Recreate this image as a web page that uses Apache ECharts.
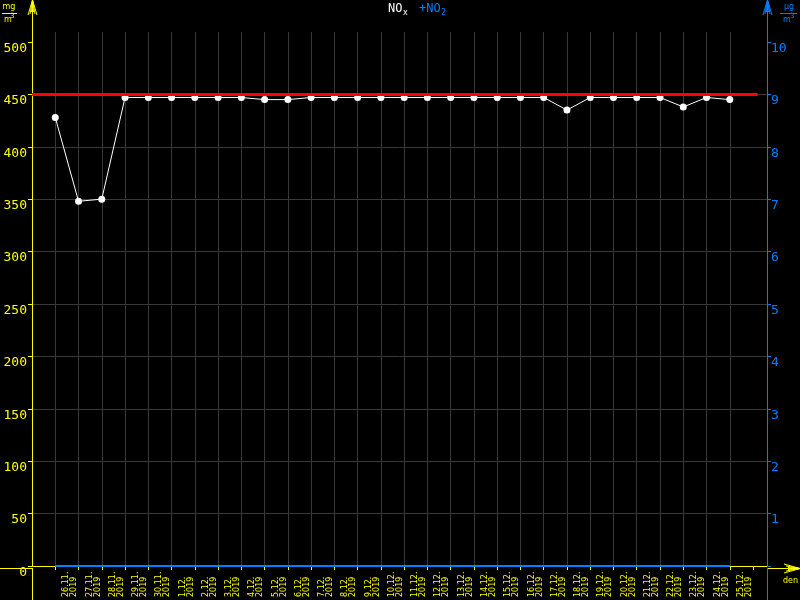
<!DOCTYPE html>
<html>
<head>
<meta charset="utf-8">
<script src="https://cdn.jsdelivr.net/npm/echarts@6/dist/echarts.min.js"></script>
<style>
  html, body { margin: 0; padding: 0; background: #000; }
  #main { width: 800px; height: 600px; }
</style>
</head>
<body>
<div id="main"></div>
<script>
// daily values, 26.11.2019 - 25.12.2019
var days = ['26.11.', '27.11.', '28.11.', '29.11.', '30.11.', '1.12.', '2.12.', '3.12.', '4.12.', '5.12.',
  '6.12.', '7.12.', '8.12.', '9.12.', '10.12.', '11.12.', '12.12.', '13.12.', '14.12.', '15.12.',
  '16.12.', '17.12.', '18.12.', '19.12.', '20.12.', '21.12.', '22.12.', '23.12.', '24.12.', '25.12.'];
var year = '2019';
var noxValues = [428, 348, 350, 447, 447, 447, 447, 447, 447, 445,
  445, 447, 447, 447, 447, 447, 447, 447, 447, 447,
  447, 447, 435, 447, 447, 447, 447, 438, 447, 445];
var no2Values = [0, 0, 0, 0, 0, 0, 0, 0, 0, 0,
  0, 0, 0, 0, 0, 0, 0, 0, 0, 0,
  0, 0, 0, 0, 0, 0, 0, 0, 0, 0];
var noxLimit = 450;
var leftTicks = [0, 50, 100, 150, 200, 250, 300, 350, 400, 450, 500];
var rightTicks = [0, 1, 2, 3, 4, 5, 6, 7, 8, 9, 10];

var YELLOW = '#ffff00';
var BLUE = '#0080ff';
var GRIDC = '#383838';
var labelShift = 0.645;

var gridDays = [];
for (var d = 0; d <= days.length; d++) gridDays.push(d);
var labelPos = days.map(function (x, i) { return i + labelShift; });

function fan(tip, ends, color) {
  return ends.map(function (e) {
    return { type: 'line', silent: true, shape: { x1: tip[0], y1: tip[1], x2: e[0], y2: e[1] },
      style: { stroke: color, lineWidth: 1 } };
  });
}
function seg(x1, y1, x2, y2, color) {
  return { type: 'line', silent: true, shape: { x1: x1, y1: y1, x2: x2, y2: y2 },
    style: { stroke: color, lineWidth: 1 } };
}
function txt(x, y, s, size, color, align, fam) {
  return { type: 'text', silent: true, x: x, y: y,
    style: { text: s, fill: color, font: size + 'px ' + (fam || '"DejaVu Sans"'), align: align || 'left', verticalAlign: 'top' } };
}

var graphics = [
  seg(0, 568.5, 32, 568.5, YELLOW),
  seg(767, 568.5, 800, 568.5, YELLOW),
  seg(32.5, 0, 32.5, 32, YELLOW),
  seg(32.5, 568, 32.5, 600, YELLOW),
  seg(767.5, 0, 767.5, 32, BLUE),
  seg(767.5, 568, 767.5, 600, BLUE),
  // mg/m3
  txt(9, 3, 'mg', 8, YELLOW, 'center'),
  seg(2, 13.5, 17, 13.5, YELLOW),
  txt(4, 16, 'm', 8, YELLOW),
  txt(10, 13, '3', 7, YELLOW),
  // ug/m3
  txt(789, 3, 'μg', 8, BLUE, 'center'),
  seg(780, 13.5, 797, 13.5, BLUE),
  txt(783, 16, 'm', 8, BLUE),
  txt(790, 13, '3', 7, BLUE),
  // title
  txt(388, 3, 'NO', 12, '#ffffff', 'left', '"DejaVu Sans Mono"'),
  txt(403, 9, 'x', 8, '#ffffff'),
  txt(419, 3, '+NO', 12, BLUE, 'left', '"DejaVu Sans Mono"'),
  txt(441, 9, '2', 8, BLUE),
  txt(783, 577, 'den', 8, YELLOW)
];
graphics = graphics
  .concat(fan([32.5, 0], [[28, 15], [30, 14], [31.5, 12], [32.5, 8], [33.5, 12], [35, 14], [37, 15]], YELLOW))
  .concat(fan([767.5, 0], [[763, 15], [765, 14], [766.5, 12], [767.5, 8], [768.5, 12], [770, 14], [772, 15]], BLUE))
  .concat(fan([800, 568.5], [[784, 564], [786, 566], [788, 567.5], [792, 568.5], [788, 569.5], [786, 571], [784, 573]], YELLOW));

var chart = echarts.init(document.getElementById('main'), null, { renderer: 'canvas' });
chart.setOption({
  backgroundColor: '#000000',
  animation: false,
  grid: { left: 32, right: 33, top: 32, bottom: 32, containLabel: false },
  xAxis: {
    type: 'value', min: -1, max: 30.6,
    axisLine: { show: true, onZero: false, lineStyle: { color: YELLOW, width: 1 } },
    axisTick: { show: true, length: 4, lineStyle: { color: YELLOW }, customValues: gridDays },
    splitLine: { show: true, showMaxLine: false, lineStyle: { color: GRIDC, width: 1 } },
    axisLabel: {
      show: true, customValues: labelPos, rotate: 90, align: 'left', verticalAlign: 'middle',
      margin: 31, color: YELLOW, fontFamily: 'DejaVu Sans', fontSize: 8, lineHeight: 8,
      formatter: function (v) {
        var i = Math.round(v - labelShift);
        return days[i] ? days[i] + '\n' + year : '';
      }
    }
  },
  yAxis: [{
    type: 'value', min: 0, max: 509.5, position: 'left',
    axisLine: { show: true, onZero: false, lineStyle: { color: YELLOW, width: 1 } },
    axisTick: { show: true, length: 4, lineStyle: { color: YELLOW }, customValues: leftTicks },
    splitLine: { show: true, showMaxLine: false, lineStyle: { color: GRIDC, width: 1 } },
    axisLabel: { customValues: leftTicks, color: YELLOW, fontFamily: 'DejaVu Sans Mono', fontSize: 13,
      margin: 5, verticalAlign: 'top' }
  }, {
    type: 'value', min: 0, max: 10.19, position: 'right',
    axisLine: { show: true, onZero: false, lineStyle: { color: BLUE, width: 1 } },
    axisTick: { show: true, length: 4, lineStyle: { color: BLUE }, customValues: rightTicks },
    splitLine: { show: false },
    axisLabel: { customValues: rightTicks.slice(1), color: BLUE, fontFamily: 'DejaVu Sans Mono', fontSize: 13,
      margin: 4, verticalAlign: 'top' }
  }],
  series: [{
    name: 'NO2', type: 'line', yAxisIndex: 1,
    data: no2Values.map(function (v, i) { return [i, v]; }),
    showSymbol: false, lineStyle: { color: BLUE, width: 2 }, z: 3
  }, {
    name: 'NOx', type: 'line', yAxisIndex: 0,
    data: noxValues.map(function (v, i) { return [i, v]; }),
    symbol: 'circle', symbolSize: 7,
    itemStyle: { color: '#ffffff' },
    lineStyle: { color: '#ffffff', width: 1 },
    z: 4,
    markLine: {
      silent: true, symbol: 'none', label: { show: false },
      lineStyle: { color: '#ff0000', width: 3, type: 'solid' },
      data: [[{ xAxis: -1, yAxis: noxLimit }, { xAxis: 30.2, yAxis: noxLimit }]]
    }
  }],
  graphic: graphics
});
</script>
</body>
</html>
